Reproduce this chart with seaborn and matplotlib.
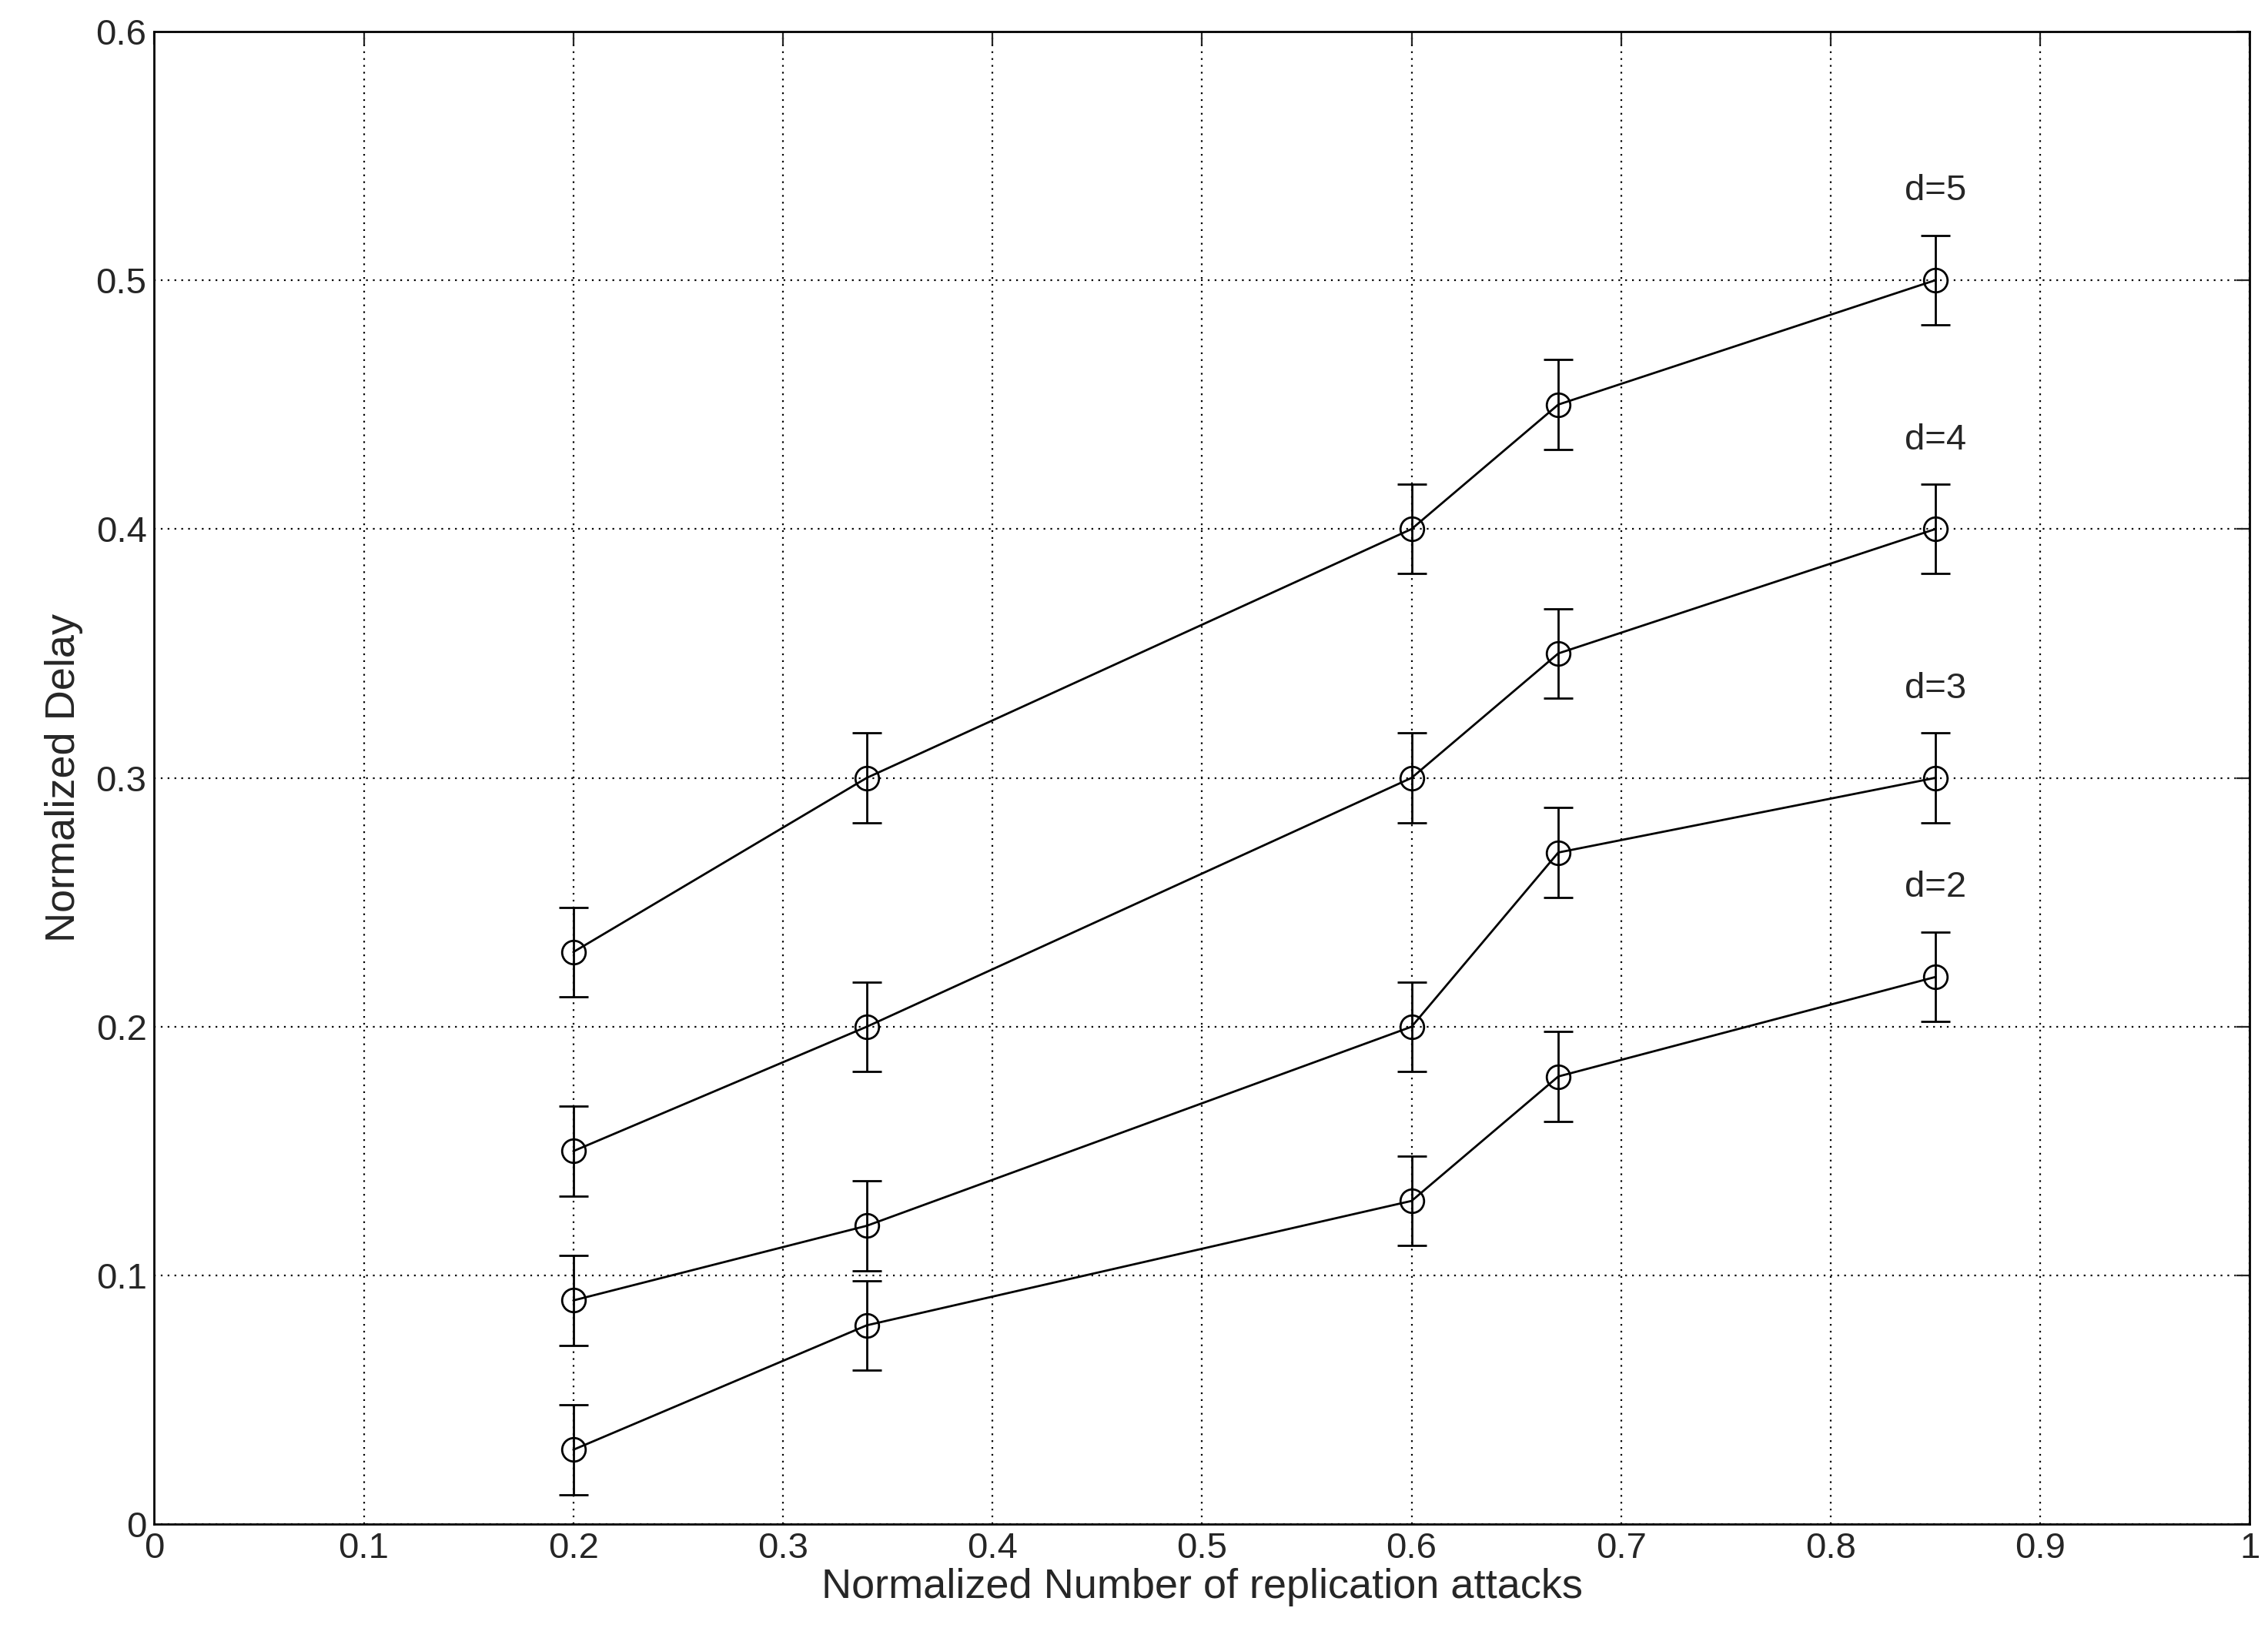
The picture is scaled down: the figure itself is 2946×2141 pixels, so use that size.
import matplotlib
matplotlib.use("Agg")
import matplotlib.pyplot as plt
import seaborn as sns
import pandas as pd

x = [0.2, 0.34, 0.6, 0.67, 0.85]
d5 = [0.23, 0.30, 0.40, 0.45, 0.50]
d4 = [0.15, 0.20, 0.30, 0.35, 0.40]
d3 = [0.09, 0.12, 0.20, 0.27, 0.30]
d2 = [0.03, 0.08, 0.13, 0.18, 0.22]
err = 0.018
labels = ["d=5", "d=4", "d=3", "d=2"]
series = [d5, d4, d3, d2]

sns.set_style("white")
plt.rcParams['font.family'] = ['Liberation Sans', 'DejaVu Sans']
fig = plt.figure(figsize=(14.73, 10.705), dpi=200)
ax = fig.add_axes([0.068, 0.075, 0.924, 0.906])

rows = []
for lab, ys in zip(labels, series):
    for xi, yi in zip(x, ys):
        rows.append({"x": xi, "y": yi, "d": lab})
df = pd.DataFrame(rows)
sns.lineplot(data=df, x="x", y="y", units="d", estimator=None, color="black",
             lw=1.0, marker="o", markersize=11, markerfacecolor="none",
             markeredgecolor="black", markeredgewidth=1.0, ax=ax)
for lab, ys in zip(labels, series):
    ax.errorbar(x, ys, yerr=err, fmt="none", ecolor="black", elinewidth=1.0,
                capsize=7, capthick=1.0)
    ax.text(x[-1], ys[-1] + 0.029, lab, ha="center", va="bottom", fontsize=17)

ax.set_xlim(0, 1)
ax.set_ylim(0, 0.6)
ax.set_xticks([i / 10 for i in range(11)])
ax.set_xticklabels(["0", "0.1", "0.2", "0.3", "0.4", "0.5", "0.6", "0.7", "0.8", "0.9", "1"])
ax.set_yticks([i / 10 for i in range(7)])
ax.set_yticklabels(["0", "0.1", "0.2", "0.3", "0.4", "0.5", "0.6"])
ax.grid(True, linestyle=(0, (1, 3)), color="black", lw=0.8)
ax.tick_params(direction="in", labelsize=17, length=6, top=True, right=True)
for s in ax.spines.values():
    s.set_color("black"); s.set_linewidth(1.0)
ax.set_xlabel("Normalized Number of replication attacks", fontsize=19.5, labelpad=1)
ax.set_ylabel("Normalized Delay", fontsize=19.5, labelpad=6)
fig.savefig("out.png", dpi=200, facecolor="white")
